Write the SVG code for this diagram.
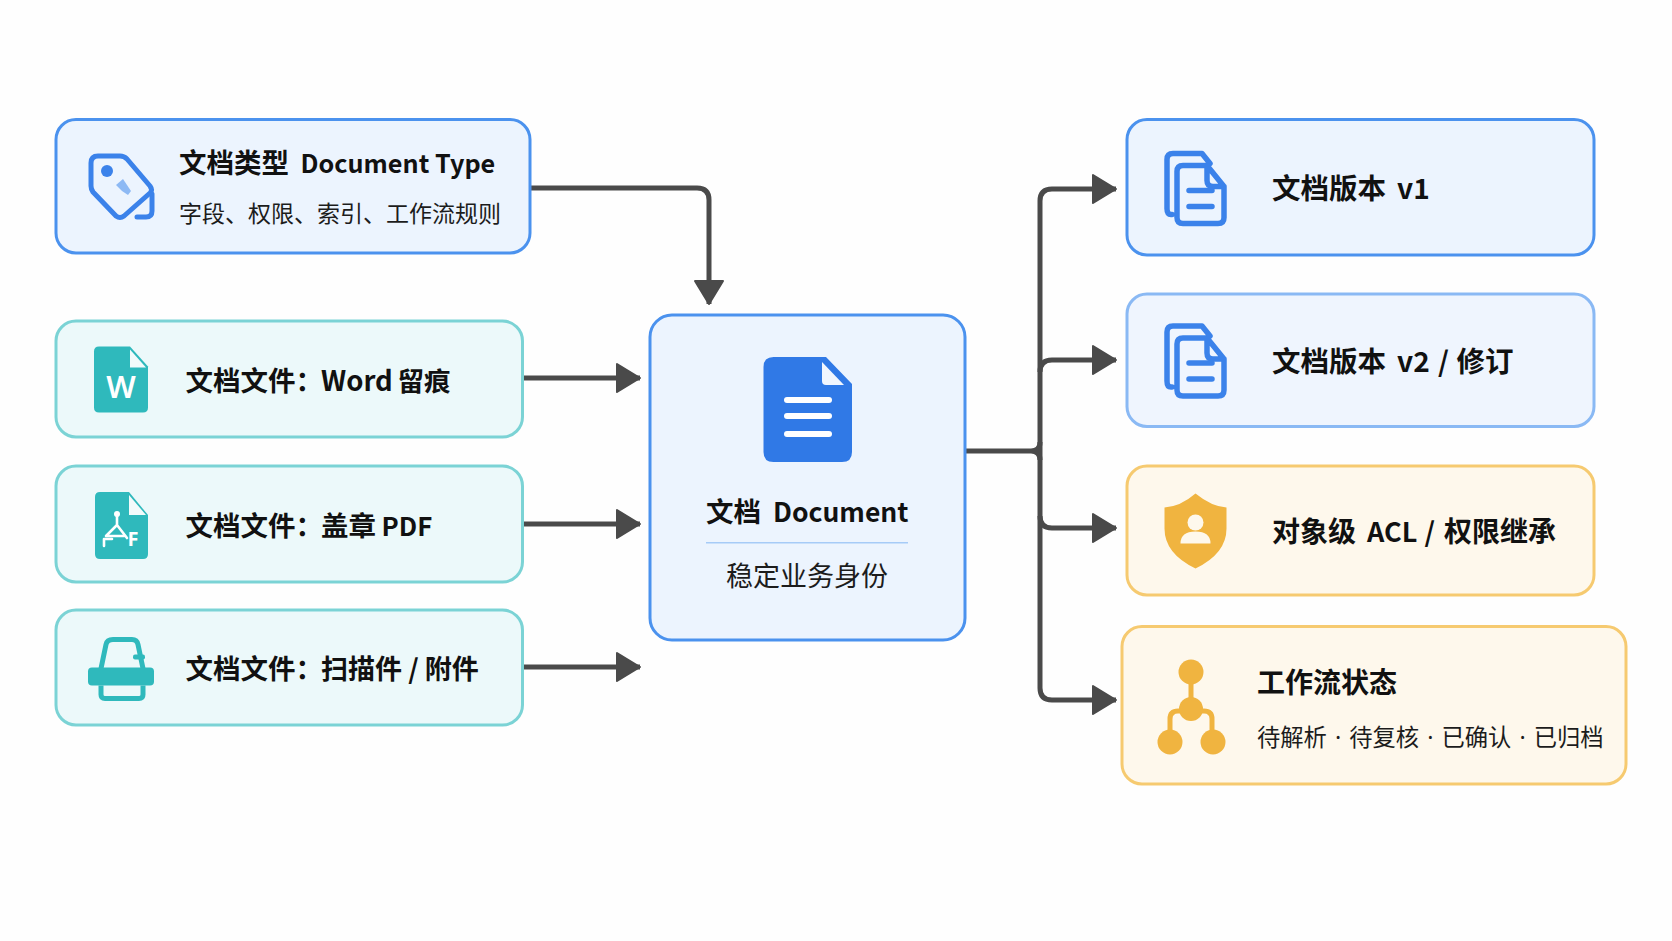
<svg xmlns="http://www.w3.org/2000/svg" width="1672" height="941" viewBox="0 0 1672 941">
<defs>
<style>
text{font-family:"Noto Sans CJK SC","Noto Sans",sans-serif;fill:#111}
.t{font-size:27.5px;font-weight:700}
.s{font-size:23px;font-weight:400;fill:#1c1c1c}
.d{font-family:"Noto Sans",sans-serif}
.box{stroke-width:3}
.blue{fill:#ecf4fe;stroke:#4b92ee}
.blue2{fill:#eff5fe;stroke:#8ab9f4}
.teal{fill:#ecf9fa;stroke:#7bd3d5}
.amber{fill:#fef8ec;stroke:#f6ca70}
.conn{fill:none;stroke:#4a4a4a;stroke-width:5}
.ib{fill:none;stroke:#3b82ea;stroke-width:5.5;stroke-linejoin:round;stroke-linecap:round}
.tealf{fill:#2fb9bc}
.ambf{fill:#f0b440}
</style>
<marker id="arr" markerUnits="userSpaceOnUse" markerWidth="26" markerHeight="32" refX="24" refY="15" orient="auto"><path d="M1,1 L24,15 L1,29 Z" fill="#4a4a4a" stroke="#4a4a4a" stroke-width="2" stroke-linejoin="round"/></marker>
<g id="copy"><path class="ib" d="M1172,214 L1171,214 Q1167,214 1167,208 L1167,159 Q1167,153 1173,153 L1202,153 L1210,163 M1183,165 L1207,165 L1224,186 L1224,217 Q1224,223 1218,223 L1183,223 Q1177,223 1177,217 L1177,171 Q1177,165 1183,165 Z M1207,165 L1207,180 Q1207,186 1213,186 L1224,186"/><path class="ib" d="M1189,190 L1212,190 M1189,206 L1212,206"/></g>
</defs>
<rect width="1672" height="941" fill="#fefefe"/>
<g id="connectors">
<path class="conn" d="M530,188 L697,188 Q709,188 709,200 L709,304" marker-end="url(#arr)"/>
<path class="conn" d="M523,378 L640,378" marker-end="url(#arr)"/>
<path class="conn" d="M523,524 L640,524" marker-end="url(#arr)"/>
<path class="conn" d="M523,667 L640,667" marker-end="url(#arr)"/>
<path class="conn" d="M965,451 L1031,451 Q1040,451 1040,442 M1031,451 Q1040,451 1040,460"/>
<path class="conn" d="M1040,201 Q1040,189 1052,189 L1116,189" marker-end="url(#arr)"/>
<path class="conn" d="M1040,372 Q1040,360 1052,360 L1116,360" marker-end="url(#arr)"/>
<path class="conn" d="M1040,516 Q1040,528 1052,528 L1116,528" marker-end="url(#arr)"/>
<path class="conn" d="M1040,201 L1040,688 Q1040,700 1052,700 L1116,700" marker-end="url(#arr)"/>
</g>
<g id="node-type">
<rect class="box blue" x="56" y="119.500" width="474" height="133.500" rx="20"/>
<g transform="translate(0,-1)">
<path d="M98,157 L120,157 Q124,157 127,160 L150,187 Q153,191 150,194 L124,217 Q120,220 116,217 L93,193 Q91,190 91,187 L91,164 Q91,157 98,157 Z" fill="none" stroke="#3b82ea" stroke-width="5" stroke-linejoin="round"/>
<circle cx="107" cy="172" r="6" fill="#3b82ea"/>
<path d="M116,186 L123,180 L131,192 L128,196 L122,192 Z" fill="#8db9f4"/>
<path d="M152,195 L152,212 Q152,218 146,218 L137,218" fill="none" stroke="#3b82ea" stroke-width="5" stroke-linecap="round"/>
</g>
<text class="t" x="179" y="172.500">文档类型 <tspan x="300.500" style="font-size:25.200px">Document Type</tspan></text>
<text class="s" x="179" y="222">字段、权限、索引、工作流规则</text>
</g>
<g id="node-word">
<rect class="box teal" x="56" y="321" width="466.500" height="116" rx="20"/>
<g transform="translate(0,-1.5)">
<path class="tealf" d="M99,348 L130,348 L148,368 L148,409 Q148,414 143,414 L99,414 Q94,414 94,409 L94,353 Q94,348 99,348 Z"/>
<path d="M130,351 L146,369 L130,369 Z" fill="#f2fbfb"/>
<text x="121" y="399" text-anchor="middle" style="font-size:31px;font-weight:600;fill:#fff;font-family:'Noto Sans',sans-serif">W</text>
</g>
<text class="t" x="185.500" y="391">文档文件：<tspan x="321" style="font-size:27.500px">Word</tspan> <tspan x="397.500" style="font-size:26.500px">留痕</tspan></text>
</g>
<g id="node-pdf">
<rect class="box teal" x="56" y="466" width="466.500" height="116" rx="20"/>
<g transform="translate(0,-2)">
<path class="tealf" d="M100,494 L129,494 L148,517 L148,556 Q148,561 143,561 L100,561 Q95,561 95,556 L95,499 Q95,494 100,494 Z"/>
<path d="M129,497 L146,517 L129,517 Z" fill="#f2fbfb"/>
<path d="M117,517 L117,527 M117,527 L106,538 L125,538 M117,527 L127,540 M104,548 L104,541 L112,541" fill="none" stroke="#fff" stroke-width="2.6" stroke-linecap="round" stroke-linejoin="round"/>
<circle cx="117" cy="516" r="3" fill="#fff"/>
<text x="133" y="548" text-anchor="middle" style="font-size:20px;font-weight:700;fill:#fff;font-family:'Noto Sans',sans-serif">F</text>
</g>
<text class="t" x="185.500" y="536">文档文件：<tspan x="321">盖章</tspan> <tspan x="381.500" style="font-size:25.800px">PDF</tspan></text>
</g>
<g id="node-scan">
<rect class="box teal" x="56" y="610" width="466.500" height="115" rx="20"/>
<g transform="translate(0,-1.5)">
<path d="M101,670 L106,646 Q107,641 113,641 L132,641 Q137,641 138,646 L143,670" fill="none" stroke="#2fb9bc" stroke-width="5"/>
<rect x="133" y="656" width="12" height="5" rx="2" class="tealf"/>
<rect class="tealf" x="88" y="669" width="66" height="18" rx="4"/>
<path d="M101,687 L101,696 Q101,700 105,700 L139,700 Q143,700 143,696 L143,687" fill="none" stroke="#2fb9bc" stroke-width="5"/>
</g>
<text class="t" x="185.500" y="679">文档文件：<tspan x="321" style="font-size:27px">扫描件 / 附件</tspan></text>
</g>
<g id="node-document">
<rect class="box blue" x="650" y="315" width="315" height="325" rx="22"/>
<path d="M770,357 L826,357 L852,384 L852,452 Q852,462 842,462 L773.500,462 Q763.500,462 763.500,452 L763.500,367 Q763.500,357 773.500,357 Z" fill="#3079e6"/>
<path d="M822,362 L844,385 L826,385 Q822,385 822,381 Z" fill="#f1f6fe"/>
<rect x="784" y="397" width="48" height="6" rx="3" fill="#fff"/>
<rect x="784" y="413" width="48" height="6" rx="3" fill="#fff"/>
<rect x="784" y="431" width="48" height="6" rx="3" fill="#fff"/>
<text class="t" x="706" y="521.500">文档 <tspan x="773" style="font-size:26.500px">Document</tspan></text>
<rect x="706" y="542" width="202" height="1.500" fill="#a6cbf7"/>
<text x="807" y="586" text-anchor="middle" style="font-size:27px;fill:#1c1c1c">稳定业务身份</text>
</g>
<g id="node-v1">
<rect class="box blue" x="1127" y="119.500" width="467" height="135.500" rx="20"/>
<use href="#copy" y="0.500"/>
<text class="t" x="1272" y="199" style="font-size:28.500px">文档版本 <tspan x="1397" style="font-size:28px">v1</tspan></text>
</g>
<g id="node-v2">
<rect class="box blue2" x="1127" y="294" width="467" height="132.500" rx="20"/>
<use href="#copy" y="173"/>
<text class="t" x="1272" y="372" style="font-size:28.500px">文档版本 <tspan x="1397" style="font-size:28px;word-spacing:2px">v2 / </tspan><tspan x="1456.500">修订</tspan></text>
</g>
<g id="node-acl">
<rect class="box amber" x="1127" y="466" width="467" height="129" rx="20"/>
<g transform="translate(-6.500,-2.500)">
<path class="ambf" d="M1202,496 Q1218,509 1233,510 L1233,531 Q1233,556 1202,571 Q1171,556 1171,531 L1171,510 Q1187,509 1202,496 Z"/>
<circle cx="1202" cy="525" r="8" fill="#fef8ec"/>
<path d="M1187,546 Q1187,534 1202,534 Q1217,534 1217,546 Z" fill="#fef8ec"/>
</g>
<text class="t" x="1272" y="542" style="font-size:28px">对象级 <tspan x="1367" style="font-size:27px;word-spacing:1px">ACL / </tspan><tspan x="1444">权限继承</tspan></text>
</g>
<g id="node-workflow">
<rect class="box amber" x="1122" y="626.500" width="504" height="157.500" rx="20"/>
<g transform="translate(-6,-3)">
<path d="M1197,675 L1197,712 M1176,745 L1176,722 Q1176,714 1184,714 L1210,714 Q1218,714 1218,722 L1218,745" fill="none" stroke="#f0b440" stroke-width="5"/>
<circle class="ambf" cx="1197" cy="675" r="12.500"/>
<circle class="ambf" cx="1197" cy="712" r="12"/>
<circle class="ambf" cx="1176" cy="745" r="12.500"/>
<circle class="ambf" cx="1219" cy="745" r="12.500"/>
</g>
<text class="t" x="1257" y="693" style="font-size:28px">工作流状态</text>
<text class="s" x="1257" y="746" style="font-size:23.300px">待解析<tspan class="d" style="word-spacing:2px"> · </tspan>待复核<tspan class="d" style="word-spacing:2px"> · </tspan>已确认<tspan class="d" style="word-spacing:2px"> · </tspan>已归档</text>
</g>
</svg>
